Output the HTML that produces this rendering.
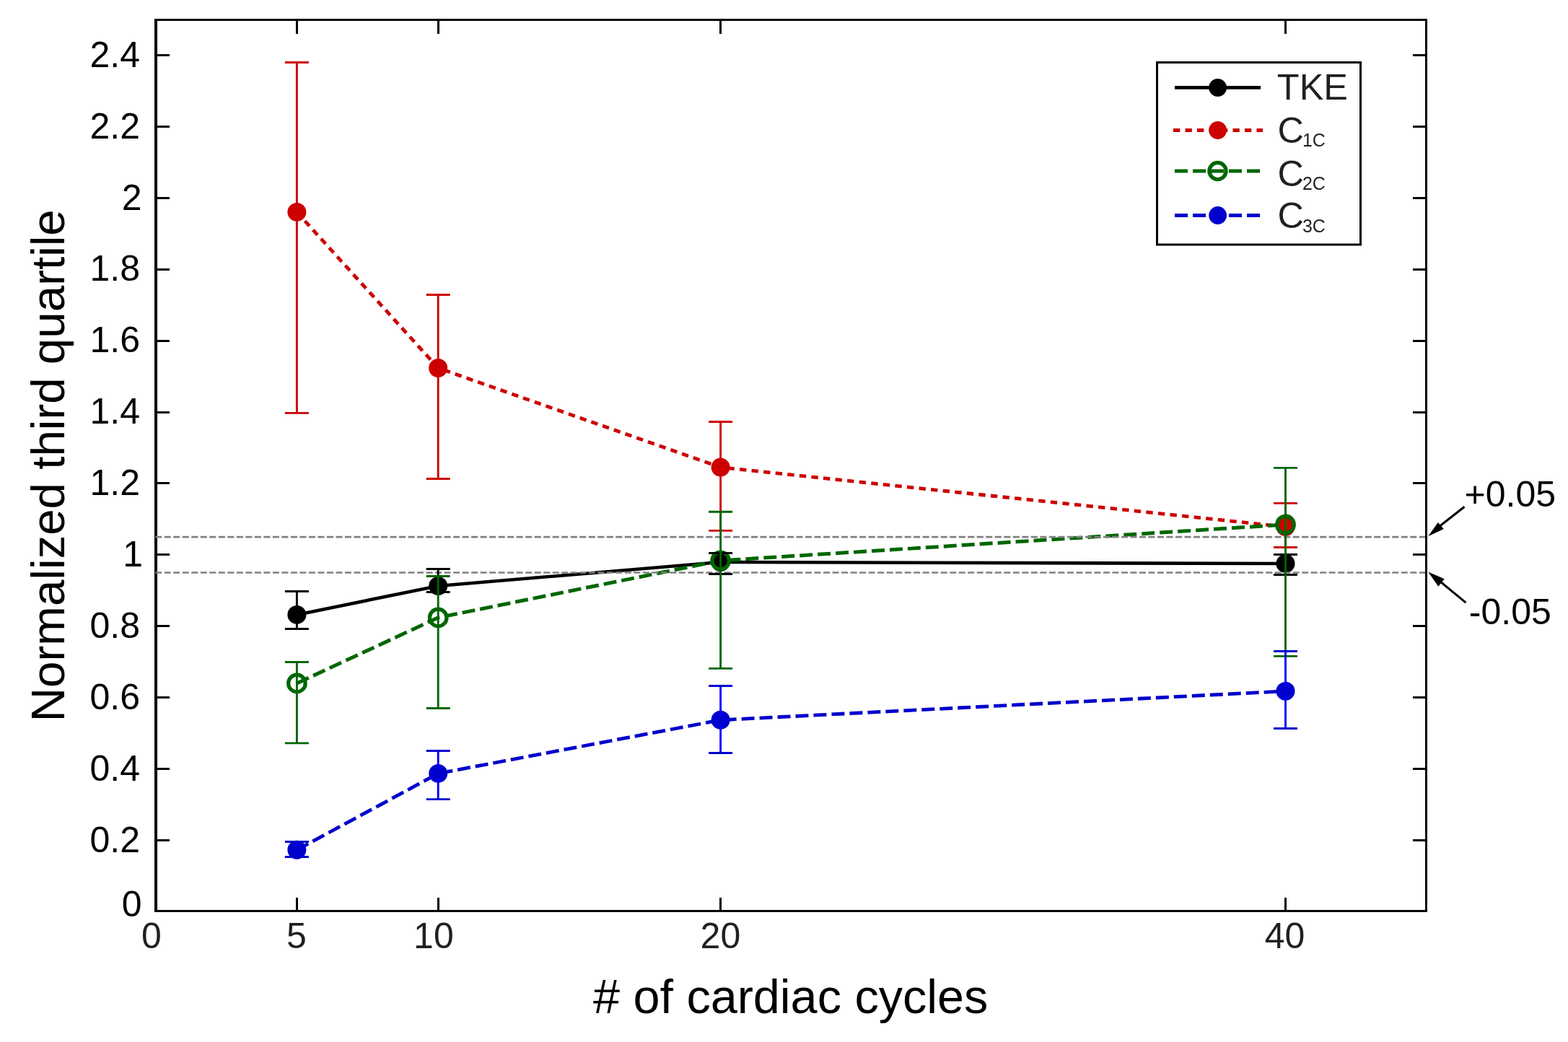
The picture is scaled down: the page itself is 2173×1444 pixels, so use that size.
<!DOCTYPE html>
<html><head><meta charset="utf-8"><title>Normalized third quartile vs # of cardiac cycles</title>
<style>html,body{margin:0;padding:0;background:#fff;overflow:hidden;width:2173px;height:1444px;}svg{display:block;}text{font-family:'Liberation Sans', Arial, Helvetica, sans-serif;}</style></head><body>
<svg width="2173" height="1444" viewBox="0 0 2173 1444">
<rect x="0" y="0" width="2173" height="1444" fill="#ffffff"/>
<g stroke="#000" stroke-width="3" fill="none" shape-rendering="crispEdges">
<rect x="216.0" y="27.5" width="1760.5" height="1235.0" stroke-width="3.3"/>
<line x1="216.0" y1="1164.49" x2="235.0" y2="1164.49"/>
<line x1="1976.5" y1="1164.49" x2="1957.5" y2="1164.49"/>
<line x1="216.0" y1="1065.58" x2="235.0" y2="1065.58"/>
<line x1="1976.5" y1="1065.58" x2="1957.5" y2="1065.58"/>
<line x1="216.0" y1="966.66" x2="235.0" y2="966.66"/>
<line x1="1976.5" y1="966.66" x2="1957.5" y2="966.66"/>
<line x1="216.0" y1="867.75" x2="235.0" y2="867.75"/>
<line x1="1976.5" y1="867.75" x2="1957.5" y2="867.75"/>
<line x1="216.0" y1="768.84" x2="235.0" y2="768.84"/>
<line x1="1976.5" y1="768.84" x2="1957.5" y2="768.84"/>
<line x1="216.0" y1="669.93" x2="235.0" y2="669.93"/>
<line x1="1976.5" y1="669.93" x2="1957.5" y2="669.93"/>
<line x1="216.0" y1="571.02" x2="235.0" y2="571.02"/>
<line x1="1976.5" y1="571.02" x2="1957.5" y2="571.02"/>
<line x1="216.0" y1="472.10" x2="235.0" y2="472.10"/>
<line x1="1976.5" y1="472.10" x2="1957.5" y2="472.10"/>
<line x1="216.0" y1="373.19" x2="235.0" y2="373.19"/>
<line x1="1976.5" y1="373.19" x2="1957.5" y2="373.19"/>
<line x1="216.0" y1="274.28" x2="235.0" y2="274.28"/>
<line x1="1976.5" y1="274.28" x2="1957.5" y2="274.28"/>
<line x1="216.0" y1="175.37" x2="235.0" y2="175.37"/>
<line x1="1976.5" y1="175.37" x2="1957.5" y2="175.37"/>
<line x1="216.0" y1="76.46" x2="235.0" y2="76.46"/>
<line x1="1976.5" y1="76.46" x2="1957.5" y2="76.46"/>
<line x1="411.40" y1="1262.5" x2="411.40" y2="1243.5"/>
<line x1="411.40" y1="27.5" x2="411.40" y2="46.5"/>
<line x1="607.20" y1="1262.5" x2="607.20" y2="1243.5"/>
<line x1="607.20" y1="27.5" x2="607.20" y2="46.5"/>
<line x1="998.60" y1="1262.5" x2="998.60" y2="1243.5"/>
<line x1="998.60" y1="27.5" x2="998.60" y2="46.5"/>
<line x1="1781.50" y1="1262.5" x2="1781.50" y2="1243.5"/>
<line x1="1781.50" y1="27.5" x2="1781.50" y2="46.5"/>
</g>
<polyline points="411.40,851.90 607.20,812.00 998.60,779.00 1781.50,781.00" fill="none" stroke="#000000" stroke-width="4.60" stroke-linecap="butt" stroke-linejoin="miter"/>
<polyline points="411.40,293.90 607.20,510.00 998.60,647.60 1781.50,730.00" fill="none" stroke="#cc0000" stroke-width="4.80" stroke-dasharray="9.4 7.26" stroke-linecap="butt" stroke-linejoin="miter"/>
<polyline points="411.40,946.90 607.20,855.90 998.60,776.90 1781.50,727.00" fill="none" stroke="#006600" stroke-width="5.00" stroke-dasharray="18 7" stroke-linecap="butt" stroke-linejoin="miter"/>
<polyline points="411.40,1177.80 607.20,1071.90 998.60,997.80 1781.50,957.80" fill="none" stroke="#0000cc" stroke-width="4.80" stroke-dasharray="18 7" stroke-linecap="butt" stroke-linejoin="miter"/>
<circle cx="411.40" cy="851.90" r="13.00" fill="#000000"/>
<circle cx="607.20" cy="812.00" r="13.00" fill="#000000"/>
<circle cx="998.60" cy="779.00" r="13.00" fill="#000000"/>
<circle cx="1781.50" cy="781.00" r="13.00" fill="#000000"/>
<circle cx="411.40" cy="293.90" r="13.00" fill="#cc0000"/>
<circle cx="607.20" cy="510.00" r="13.00" fill="#cc0000"/>
<circle cx="998.60" cy="647.60" r="13.00" fill="#cc0000"/>
<circle cx="1781.50" cy="730.00" r="13.00" fill="#cc0000"/>
<circle cx="411.40" cy="946.90" r="11.80" fill="none" stroke="#006600" stroke-width="5.20"/>
<circle cx="607.20" cy="855.90" r="11.80" fill="none" stroke="#006600" stroke-width="5.20"/>
<circle cx="998.60" cy="776.90" r="11.80" fill="none" stroke="#006600" stroke-width="5.20"/>
<circle cx="1781.50" cy="727.00" r="11.80" fill="none" stroke="#006600" stroke-width="5.20"/>
<circle cx="411.40" cy="1177.80" r="13.00" fill="#0000cc"/>
<circle cx="607.20" cy="1071.90" r="13.00" fill="#0000cc"/>
<circle cx="998.60" cy="997.80" r="13.00" fill="#0000cc"/>
<circle cx="1781.50" cy="957.80" r="13.00" fill="#0000cc"/>
<line x1="215.2" y1="744.11" x2="1975" y2="744.11" stroke="#808080" stroke-width="2.6" stroke-dasharray="9.1 3.411"/>
<line x1="215.2" y1="793.57" x2="1975" y2="793.57" stroke="#808080" stroke-width="2.6" stroke-dasharray="9.1 3.411"/>
<line x1="411.40" y1="819.50" x2="411.40" y2="871.50" stroke="#000000" stroke-width="2.90"/>
<line x1="394.90" y1="819.50" x2="427.90" y2="819.50" stroke="#000000" stroke-width="2.90"/>
<line x1="394.90" y1="871.50" x2="427.90" y2="871.50" stroke="#000000" stroke-width="2.90"/>
<line x1="607.20" y1="788.50" x2="607.20" y2="820.50" stroke="#000000" stroke-width="2.90"/>
<line x1="590.70" y1="788.50" x2="623.70" y2="788.50" stroke="#000000" stroke-width="2.90"/>
<line x1="590.70" y1="820.50" x2="623.70" y2="820.50" stroke="#000000" stroke-width="2.90"/>
<line x1="998.60" y1="766.50" x2="998.60" y2="795.50" stroke="#000000" stroke-width="2.90"/>
<line x1="982.10" y1="766.50" x2="1015.10" y2="766.50" stroke="#000000" stroke-width="2.90"/>
<line x1="982.10" y1="795.50" x2="1015.10" y2="795.50" stroke="#000000" stroke-width="2.90"/>
<line x1="1781.50" y1="768.50" x2="1781.50" y2="796.50" stroke="#000000" stroke-width="2.90"/>
<line x1="1765.00" y1="768.50" x2="1798.00" y2="768.50" stroke="#000000" stroke-width="2.90"/>
<line x1="1765.00" y1="796.50" x2="1798.00" y2="796.50" stroke="#000000" stroke-width="2.90"/>
<line x1="411.40" y1="86.50" x2="411.40" y2="572.40" stroke="#cc0000" stroke-width="2.90"/>
<line x1="394.90" y1="86.50" x2="427.90" y2="86.50" stroke="#cc0000" stroke-width="2.90"/>
<line x1="394.90" y1="572.40" x2="427.90" y2="572.40" stroke="#cc0000" stroke-width="2.90"/>
<line x1="607.20" y1="408.50" x2="607.20" y2="663.50" stroke="#cc0000" stroke-width="2.90"/>
<line x1="590.70" y1="408.50" x2="623.70" y2="408.50" stroke="#cc0000" stroke-width="2.90"/>
<line x1="590.70" y1="663.50" x2="623.70" y2="663.50" stroke="#cc0000" stroke-width="2.90"/>
<line x1="998.60" y1="584.50" x2="998.60" y2="735.40" stroke="#cc0000" stroke-width="2.90"/>
<line x1="982.10" y1="584.50" x2="1015.10" y2="584.50" stroke="#cc0000" stroke-width="2.90"/>
<line x1="982.10" y1="735.40" x2="1015.10" y2="735.40" stroke="#cc0000" stroke-width="2.90"/>
<line x1="1781.50" y1="697.40" x2="1781.50" y2="758.50" stroke="#cc0000" stroke-width="2.90"/>
<line x1="1765.00" y1="697.40" x2="1798.00" y2="697.40" stroke="#cc0000" stroke-width="2.90"/>
<line x1="1765.00" y1="758.50" x2="1798.00" y2="758.50" stroke="#cc0000" stroke-width="2.90"/>
<line x1="411.40" y1="917.50" x2="411.40" y2="1029.90" stroke="#006600" stroke-width="2.90"/>
<line x1="394.90" y1="917.50" x2="427.90" y2="917.50" stroke="#006600" stroke-width="2.90"/>
<line x1="394.90" y1="1029.90" x2="427.90" y2="1029.90" stroke="#006600" stroke-width="2.90"/>
<line x1="607.20" y1="798.50" x2="607.20" y2="981.50" stroke="#006600" stroke-width="2.90"/>
<line x1="590.70" y1="798.50" x2="623.70" y2="798.50" stroke="#006600" stroke-width="2.90"/>
<line x1="590.70" y1="981.50" x2="623.70" y2="981.50" stroke="#006600" stroke-width="2.90"/>
<line x1="998.60" y1="709.20" x2="998.60" y2="926.40" stroke="#006600" stroke-width="2.90"/>
<line x1="982.10" y1="709.20" x2="1015.10" y2="709.20" stroke="#006600" stroke-width="2.90"/>
<line x1="982.10" y1="926.40" x2="1015.10" y2="926.40" stroke="#006600" stroke-width="2.90"/>
<line x1="1781.50" y1="648.40" x2="1781.50" y2="909.40" stroke="#006600" stroke-width="2.90"/>
<line x1="1765.00" y1="648.40" x2="1798.00" y2="648.40" stroke="#006600" stroke-width="2.90"/>
<line x1="1765.00" y1="909.40" x2="1798.00" y2="909.40" stroke="#006600" stroke-width="2.90"/>
<line x1="411.40" y1="1166.50" x2="411.40" y2="1171.60" stroke="#0000ff" stroke-width="2.90"/>
<line x1="411.40" y1="1184.00" x2="411.40" y2="1187.50" stroke="#0000ff" stroke-width="2.90"/>
<line x1="394.90" y1="1166.50" x2="427.90" y2="1166.50" stroke="#0000cc" stroke-width="2.90"/>
<line x1="394.90" y1="1187.50" x2="427.90" y2="1187.50" stroke="#0000cc" stroke-width="2.90"/>
<line x1="607.20" y1="1040.50" x2="607.20" y2="1065.70" stroke="#0000ff" stroke-width="2.90"/>
<line x1="607.20" y1="1078.10" x2="607.20" y2="1107.60" stroke="#0000ff" stroke-width="2.90"/>
<line x1="590.70" y1="1040.50" x2="623.70" y2="1040.50" stroke="#0000cc" stroke-width="2.90"/>
<line x1="590.70" y1="1107.60" x2="623.70" y2="1107.60" stroke="#0000cc" stroke-width="2.90"/>
<line x1="998.60" y1="950.50" x2="998.60" y2="991.60" stroke="#0000ff" stroke-width="2.90"/>
<line x1="998.60" y1="1004.00" x2="998.60" y2="1043.50" stroke="#0000ff" stroke-width="2.90"/>
<line x1="982.10" y1="950.50" x2="1015.10" y2="950.50" stroke="#0000cc" stroke-width="2.90"/>
<line x1="982.10" y1="1043.50" x2="1015.10" y2="1043.50" stroke="#0000cc" stroke-width="2.90"/>
<line x1="1781.50" y1="902.50" x2="1781.50" y2="951.60" stroke="#0000ff" stroke-width="2.90"/>
<line x1="1781.50" y1="964.00" x2="1781.50" y2="1009.50" stroke="#0000ff" stroke-width="2.90"/>
<line x1="1765.00" y1="902.50" x2="1798.00" y2="902.50" stroke="#0000cc" stroke-width="2.90"/>
<line x1="1765.00" y1="1009.50" x2="1798.00" y2="1009.50" stroke="#0000cc" stroke-width="2.90"/>
<rect x="1603.5" y="86.5" width="282" height="252.5" fill="#fff" stroke="#000" stroke-width="3"/>
<line x1="1628" y1="121.4" x2="1747" y2="121.4" stroke="#000000" stroke-width="4.6"/>
<circle cx="1687.6" cy="121.4" r="12.4" fill="#000000"/>
<text x="1769.8" y="138.0" font-size="50.5" fill="#231f20">TKE</text>
<line x1="1626" y1="180.5" x2="1750" y2="180.5" stroke="#cc0000" stroke-width="4.8" stroke-dasharray="9.3 7.2"/>
<circle cx="1687.6" cy="180.5" r="12.4" fill="#cc0000"/>
<text x="1770.4" y="197.5" font-size="50.5" fill="#231f20">C<tspan font-size="25" dy="5.3" dx="-2">1C</tspan></text>
<line x1="1628" y1="237.0" x2="1746" y2="237.0" stroke="#006600" stroke-width="5.0" stroke-dasharray="18 7"/>
<circle cx="1687.5" cy="237.0" r="11.60" fill="none" stroke="#006600" stroke-width="5.20"/>
<text x="1770.4" y="257.5" font-size="50.5" fill="#231f20">C<tspan font-size="25" dy="5.3" dx="-2">2C</tspan></text>
<line x1="1628" y1="298.5" x2="1746" y2="298.5" stroke="#0000cc" stroke-width="4.8" stroke-dasharray="18 7"/>
<circle cx="1687.6" cy="298.5" r="12.4" fill="#0000cc"/>
<text x="1770.4" y="316.3" font-size="50.5" fill="#231f20">C<tspan font-size="25" dy="5.3" dx="-2">3C</tspan></text>
<text x="196.5" y="1270.30" font-size="50" text-anchor="end" fill="#000">0</text>
<text x="194.0" y="1180.79" font-size="50" text-anchor="end" fill="#000">0.2</text>
<text x="194.0" y="1081.88" font-size="50" text-anchor="end" fill="#000">0.4</text>
<text x="194.0" y="982.96" font-size="50" text-anchor="end" fill="#000">0.6</text>
<text x="194.0" y="884.05" font-size="50" text-anchor="end" fill="#000">0.8</text>
<text x="198.0" y="785.14" font-size="50" text-anchor="end" fill="#000">1</text>
<text x="194.0" y="686.23" font-size="50" text-anchor="end" fill="#000">1.2</text>
<text x="194.0" y="587.32" font-size="50" text-anchor="end" fill="#000">1.4</text>
<text x="194.0" y="488.40" font-size="50" text-anchor="end" fill="#000">1.6</text>
<text x="194.0" y="389.49" font-size="50" text-anchor="end" fill="#000">1.8</text>
<text x="196.5" y="290.58" font-size="50" text-anchor="end" fill="#000">2</text>
<text x="194.0" y="191.67" font-size="50" text-anchor="end" fill="#000">2.2</text>
<text x="194.0" y="92.76" font-size="50" text-anchor="end" fill="#000">2.4</text>
<text x="210.0" y="1314.3" font-size="50" text-anchor="middle" fill="#231f20">0</text>
<text x="410.9" y="1314.3" font-size="50" text-anchor="middle" fill="#231f20">5</text>
<text x="600.9" y="1314.3" font-size="50" text-anchor="middle" fill="#231f20">10</text>
<text x="998.4" y="1314.3" font-size="50" text-anchor="middle" fill="#231f20">20</text>
<text x="1780.5" y="1314.3" font-size="50" text-anchor="middle" fill="#231f20">40</text>
<text x="821.9" y="1404" font-size="66.55" fill="#000"># of cardiac cycles</text>
<text transform="translate(89,1000.2) rotate(-90)" x="0" y="0" font-size="65.5" fill="#000">Normalized third quartile</text>
<text x="2029.5" y="702.3" font-size="50" fill="#000">+0.05</text>
<text x="2035.8" y="864.5" font-size="50" fill="#000">-0.05</text>
<line x1="2029.5" y1="702.2" x2="1996" y2="728.5" stroke="#000" stroke-width="3"/>
<polygon points="1979.2,743.3 1992.8,723.9 2000.8,732.9" fill="#000"/>
<line x1="2031.4" y1="835.1" x2="1996" y2="806" stroke="#000" stroke-width="3"/>
<polygon points="1979.2,792.4 2001.7,802.3 1993.3,812.7" fill="#000"/>
</svg></body></html>
